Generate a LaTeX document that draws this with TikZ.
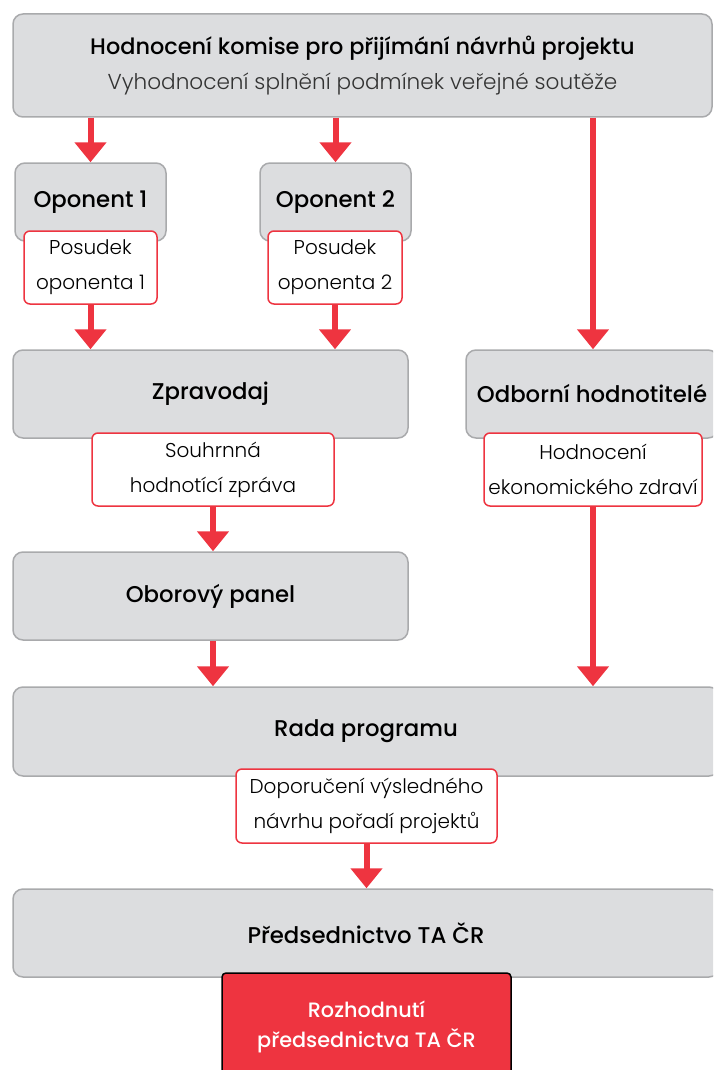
\documentclass[tikz,border=0pt]{standalone}
\usepackage{fontspec}
\setmainfont{Poppins}[BoldFont={Poppins Medium}]
\newfontfamily\lightfont{Poppins Light}
\usetikzlibrary{arrows.meta}
\definecolor{tared}{HTML}{EE3440}
\definecolor{boxfill}{HTML}{DCDDDF}
\definecolor{boxline}{HTML}{A9AAAC}
\definecolor{subtext}{HTML}{333333}

\begin{document}
\begin{tikzpicture}[x=1pt,y=-1pt,
    grey/.style={draw=boxline,fill=boxfill,line width=1.5pt,rounded corners=10pt,
      inner sep=0pt,align=center,font=\fontsize{22.8}{35}\selectfont\bfseries},
    note/.style={draw=tared,fill=white,line width=1.5pt,rounded corners=6pt,
      inner sep=0pt,align=center,font=\fontsize{20}{35}\selectfont\lightfont},
    flow/.style={draw=tared,line width=6pt,-{Triangle[width=31pt,length=20pt]}}]
  \useasboundingbox (0,0) rectangle (713,1070);
  \clip (0,0) rectangle (713,1070);
  % grey boxes
  \node[grey,minimum width=699pt,minimum height=103pt,font=\fontsize{22.4}{35}\selectfont\bfseries]
    (komise) at (362.5,65.5)
    {Hodnocení komise pro přijímání návrhů projektu\\
     {\mdseries\lightfont\fontsize{21.6}{35}\selectfont\color{subtext}Vyhodnocení splnění podmínek veřejné soutěže}};
  \node[grey,minimum width=151pt,minimum height=78pt] (op1) at (90.5,202) {Oponent 1};
  \node[grey,minimum width=151pt,minimum height=78pt] (op2) at (335.5,202) {Oponent 2};
  \node[grey,minimum width=395pt,minimum height=88pt] (zprav) at (210.5,394) {Zpravodaj};
  \node[grey,minimum width=252pt,minimum height=88pt] (odb) at (592,394) {Odborní hodnotitelé};
  \node[grey,minimum width=395pt,minimum height=88pt] (obor) at (210.5,596) {Oborový panel};
  \node[grey,minimum width=706pt,minimum height=89pt] (rada) at (366,731.5) {Rada programu};
  \node[grey,minimum width=706pt,minimum height=88pt] (pred) at (366,933) {Předsednictvo TA ČR};
  % outputs
  \node[note,minimum width=133pt,minimum height=73pt] (pos1) at (90.5,267.5) {Posudek\\oponenta 1};
  \node[note,minimum width=134pt,minimum height=73pt] (pos2) at (335,267.5) {Posudek\\oponenta 2};
  \node[note,minimum width=242pt,minimum height=73pt] (souhrn) at (213,469.5) {Souhrnná\\hodnotící zpráva};
  \node[note,minimum width=218pt,minimum height=73pt] (hodn) at (593,469.5) {Hodnocení\\ekonomického zdraví};
  \node[note,minimum width=261pt,minimum height=74pt] (dopor) at (366.5,806) {Doporučení výsledného\\návrhu pořadí projektů};
  \node[draw=black,fill=tared,line width=1.5pt,rounded corners=4pt,text=white,align=center,
    font=\fontsize{20.8}{30}\selectfont\bfseries,minimum width=289pt,minimum height=108pt]
    (rozh) at (366.5,1027) {Rozhodnutí\\předsednictva TA ČR};
  % arrows
  \draw[flow] (komise.south -| op1) -- (op1.north);
  \draw[flow] (komise.south -| op2) -- (op2.north);
  \draw[flow] (komise.south -| hodn) -- (hodn |- odb.north);
  \draw[flow] (pos1.south) -- (pos1.south |- zprav.north);
  \draw[flow] (pos2.south) -- (pos2.south |- zprav.north);
  \draw[flow] (souhrn.south) -- (souhrn.south |- obor.north);
  \draw[flow] (souhrn.south |- obor.south) -- (souhrn.south |- rada.north);
  \draw[flow] (hodn.south) -- (hodn.south |- rada.north);
  \draw[flow] (dopor.south) -- (dopor.south |- pred.north);
\end{tikzpicture}
\end{document}
